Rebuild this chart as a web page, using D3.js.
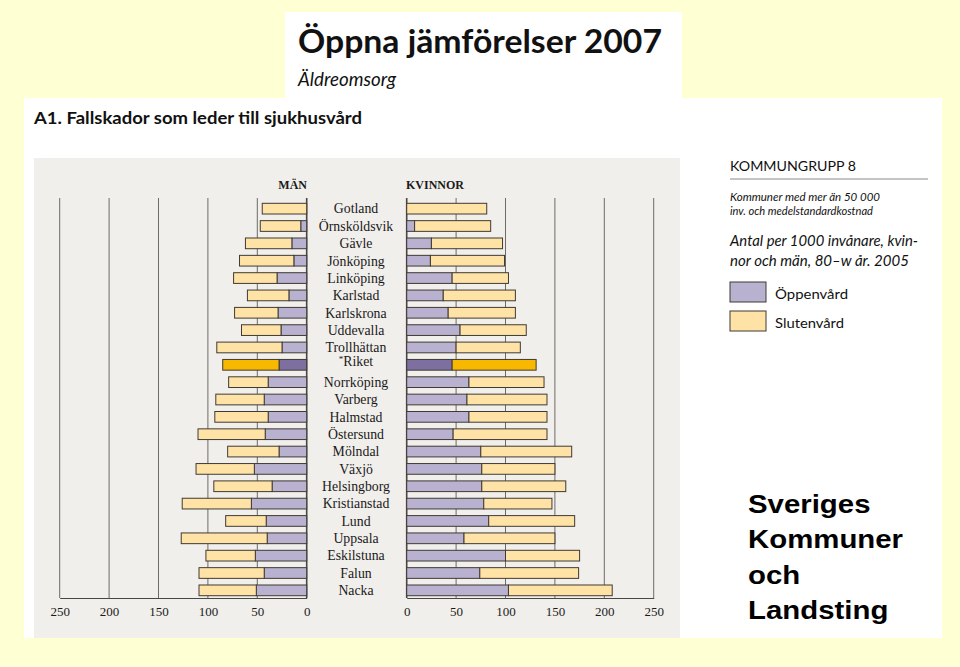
<!DOCTYPE html>
<html><head><meta charset="utf-8">
<script src="https://cdn.jsdelivr.net/npm/d3@7"></script>
<style>
html,body{margin:0;padding:0;background:#FFFFD4;}
svg{display:block;}
</style></head>
<body>
<svg id="chart" width="960" height="667"></svg>
<script>
const categories = ["Gotland","Örnsköldsvik","Gävle","Jönköping","Linköping","Karlstad","Karlskrona","Uddevalla","Trollhättan","*Riket","Norrköping","Varberg","Halmstad","Östersund","Mölndal","Växjö","Helsingborg","Kristianstad","Lund","Uppsala","Eskilstuna","Falun","Nacka"];
const menOppen    = [0,6,15,13,30,18,29,26,25,28,39,43,39,42,28,53,35,56,41,40,52,43,51];
const menSluten   = [45,41,47,55,44,42,44,40,66,57,40,49,54,68,52,59,59,70,41,87,50,66,58];
const womenOppen  = [0,8,25,24,46,37,42,54,50,46,63,61,63,47,75,76,76,78,83,58,100,74,103];
const womenSluten = [81,77,72,75,57,73,68,67,65,85,76,81,79,95,92,74,85,69,87,92,75,100,105];
const tickValues = [0,50,100,150,200,250];
const highlight = "*Riket";

const C = {
  bg:"#FFFFD4", white:"#FFFFFF", panel:"#F1EFEB",
  open:"#B8B1CF", closed:"#FFE3A6", openHi:"#7D6F9F", closedHi:"#F9B800",
  stroke:"#3F3A33", grid:"#6E6A66", zero:"#4A4642", text:"#1A1A1A"
};

const svg = d3.select("#chart");

// background panels
svg.append("rect").attr("x",0).attr("y",0).attr("width",960).attr("height",667).attr("fill",C.bg);
svg.append("rect").attr("x",285).attr("y",12).attr("width",397).attr("height",90).attr("fill",C.white);
svg.append("rect").attr("x",24).attr("y",98).attr("width",918).attr("height",540).attr("fill",C.white);
svg.append("rect").attr("x",34).attr("y",158).attr("width",646).attr("height",480).attr("fill",C.panel);

// titles
const sans = "Lato, 'Open Sans', sans-serif";
svg.append("text").attr("x",298).attr("y",53).attr("font-family",sans).attr("font-weight",700)
  .attr("font-size",33).attr("fill","#111").attr("textLength",364).attr("lengthAdjust","spacingAndGlyphs")
  .text("Öppna jämförelser 2007");
svg.append("text").attr("x",298).attr("y",86).attr("font-family",sans).attr("font-style","italic")
  .attr("font-size",19).attr("fill","#111").attr("textLength",98).attr("lengthAdjust","spacingAndGlyphs")
  .text("Äldreomsorg");
svg.append("text").attr("x",34).attr("y",124).attr("font-family",sans).attr("font-weight",700)
  .attr("font-size",17).attr("fill","#111").attr("textLength",328).attr("lengthAdjust","spacingAndGlyphs")
  .text("A1. Fallskador som leder till sjukhusvård");

// scales
const y = d3.scaleBand().domain(categories).range([199.98,599.03]).paddingInner(0.383).paddingOuter(0.1915);
const xL = d3.scaleLinear().domain([0,250]).range([306.7,59.7]);
const xR = d3.scaleLinear().domain([0,250]).range([406.7,653.7]);

const gridTop = 198, axisY = 598;
[xL,xR].forEach(sc=>{
  svg.append("g").selectAll("line").data(tickValues).join("line")
    .attr("x1",d=>sc(d)).attr("x2",d=>sc(d)).attr("y1",gridTop).attr("y2",axisY)
    .attr("stroke",d=>d===0?C.zero:C.grid).attr("stroke-width",d=>d===0?1.6:1);
});

const rows = categories.map((c,i)=>({c, mo:menOppen[i], ms:menSluten[i], wo:womenOppen[i], ws:womenSluten[i]}));

const bars = svg.append("g");
rows.forEach(r=>{
  const hi = r.c===highlight;
  const yy = y(r.c), h = y.bandwidth();
  if (r.mo>0) bars.append("rect").attr("x",xL(r.mo)).attr("y",yy).attr("width",xL(0)-xL(r.mo)).attr("height",h)
    .attr("fill",hi?C.openHi:C.open).attr("stroke",C.stroke).attr("stroke-width",1);
  bars.append("rect").attr("x",xL(r.mo+r.ms)).attr("y",yy).attr("width",xL(r.mo)-xL(r.mo+r.ms)).attr("height",h)
    .attr("fill",hi?C.closedHi:C.closed).attr("stroke",C.stroke).attr("stroke-width",1);
  if (r.wo>0) bars.append("rect").attr("x",xR(0)).attr("y",yy).attr("width",xR(r.wo)-xR(0)).attr("height",h)
    .attr("fill",hi?C.openHi:C.open).attr("stroke",C.stroke).attr("stroke-width",1);
  bars.append("rect").attr("x",xR(r.wo)).attr("y",yy).attr("width",xR(r.wo+r.ws)-xR(r.wo)).attr("height",h)
    .attr("fill",hi?C.closedHi:C.closed).attr("stroke",C.stroke).attr("stroke-width",1);
});

// category labels
const serif = "'Liberation Serif', 'DejaVu Serif', serif";
const lab = svg.append("g").selectAll("text").data(categories).join("text")
  .attr("x",356).attr("y",d=>y(d)+y.bandwidth()/2).attr("dy","0.35em")
  .attr("text-anchor","middle").attr("font-family",serif).attr("font-size",13.8).attr("fill",C.text);
lab.each(function(d){
  const t = d3.select(this);
  if (d.startsWith("*")) {
    t.append("tspan").attr("font-size",9).attr("dy","-0.35em").text("*");
    t.append("tspan").attr("dy","0.35em").text(d.slice(1));
  } else t.text(d);
});

// headers
svg.append("text").attr("x",307).attr("y",189).attr("text-anchor","end").attr("font-family",serif)
  .attr("font-weight",700).attr("font-size",12).attr("fill",C.text).text("MÄN");
svg.append("text").attr("x",406).attr("y",189).attr("text-anchor","start").attr("font-family",serif)
  .attr("font-weight",700).attr("font-size",12).attr("fill",C.text).text("KVINNOR");

// axes
function drawAxis(sc){
  const g = svg.append("g").attr("transform",`translate(0,${axisY})`)
    .call(d3.axisBottom(sc).tickValues(tickValues).tickSize(0).tickPadding(9).tickFormat(d3.format("d")));
  g.select(".domain").attr("stroke",C.zero).attr("stroke-width",1.2);
  g.selectAll("text").attr("font-family",serif).attr("font-size",13).attr("fill",C.text);
}
drawAxis(xL); drawAxis(xR);

// legend / right panel
svg.append("text").attr("x",730).attr("y",171).attr("font-family",sans).attr("font-size",14)
  .attr("fill","#111").attr("textLength",126).attr("lengthAdjust","spacingAndGlyphs").text("KOMMUNGRUPP 8");
svg.append("line").attr("x1",730).attr("x2",928).attr("y1",179).attr("y2",179).attr("stroke","#8A8A8A").attr("stroke-width",1);
const notes = [
  {t:"Kommuner med mer än 50 000", y:201, s:11, w:150},
  {t:"inv. och medelstandardkostnad", y:215, s:11, w:143},
  {t:"Antal per 1000 invånare, kvin-", y:246, s:15, w:188},
  {t:"nor och män, 80–w år. 2005", y:266, s:15, w:179}
];
svg.append("g").selectAll("text").data(notes).join("text")
  .attr("x",730).attr("y",d=>d.y).attr("font-family",sans).attr("font-style","italic")
  .attr("font-size",d=>d.s).attr("fill","#111").attr("textLength",d=>d.w).attr("lengthAdjust","spacingAndGlyphs")
  .text(d=>d.t);
const legend = [
  {t:"Öppenvård", c:C.open, y:282, w:73},
  {t:"Slutenvård", c:C.closed, y:311, w:69}
];
const lg = svg.append("g");
legend.forEach(d=>{
  lg.append("rect").attr("x",730).attr("y",d.y).attr("width",36).attr("height",20)
    .attr("fill",d.c).attr("stroke",C.stroke).attr("stroke-width",1);
  lg.append("text").attr("x",775).attr("y",d.y+17).attr("font-family",sans).attr("font-size",14)
    .attr("fill","#111").attr("textLength",d.w).attr("lengthAdjust","spacingAndGlyphs").text(d.t);
});

// organisation name
const org = ["Sveriges","Kommuner","och","Landsting"];
svg.append("g").selectAll("text").data(org).join("text")
  .attr("transform",(d,i)=>`translate(748,${513+i*35.3}) scale(1.13,1)`)
  .attr("font-family","'Liberation Sans', Arial, sans-serif").attr("font-weight",700)
  .attr("font-size",26).attr("fill","#000").text(d=>d);
</script>
</body></html>
